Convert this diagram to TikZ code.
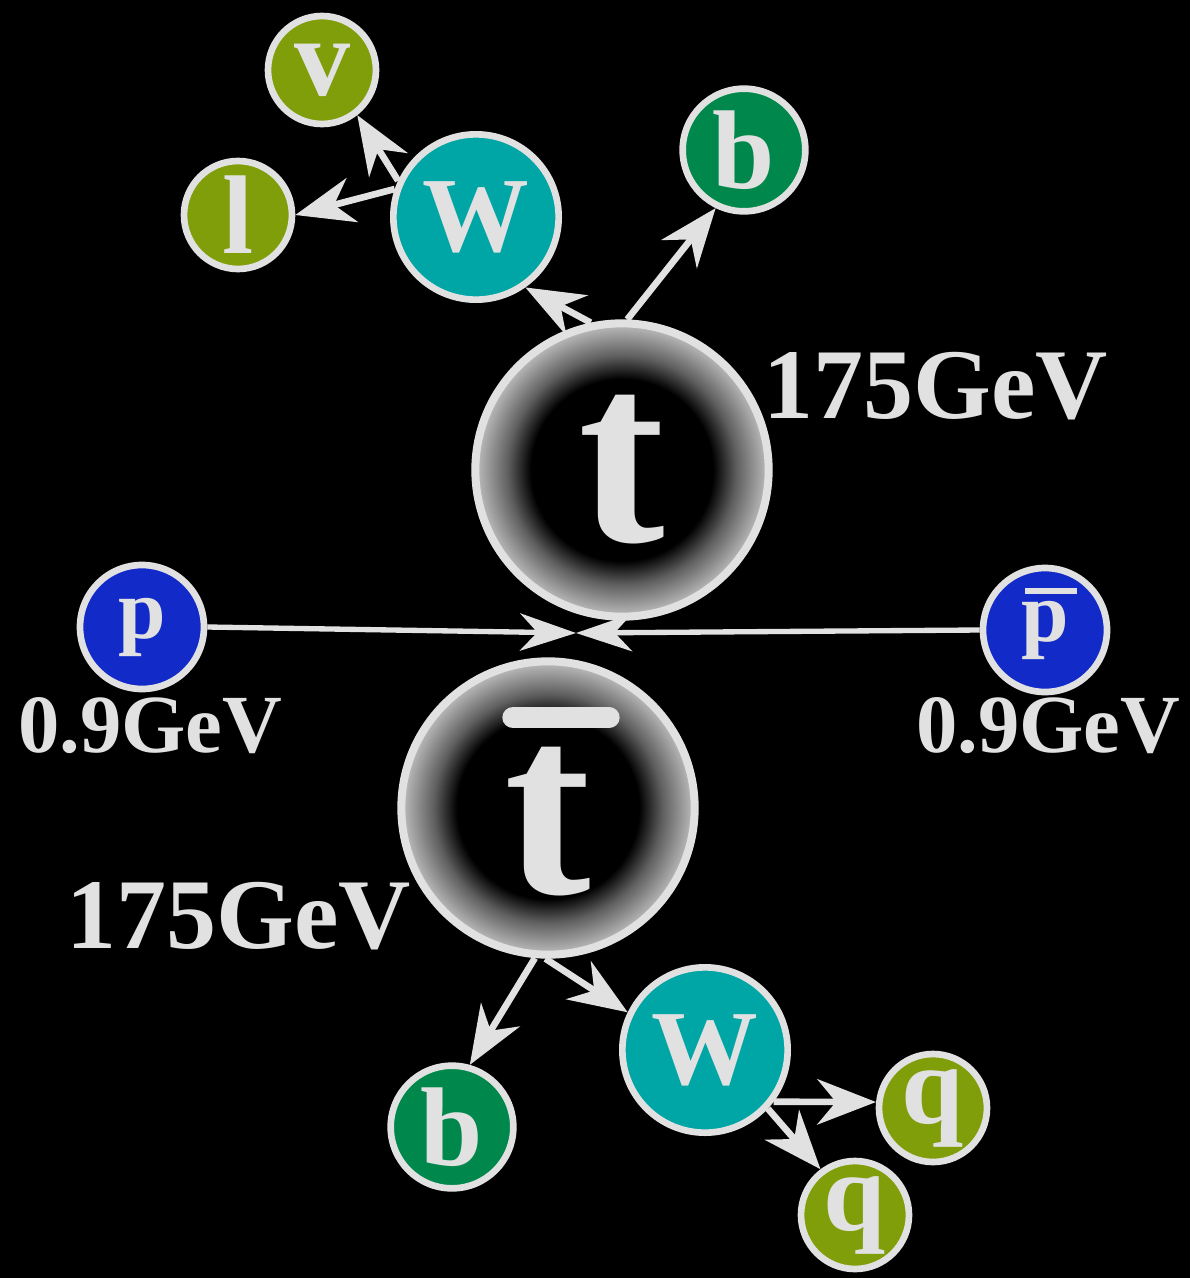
\documentclass[tikz,border=0pt]{standalone}
\usepackage{fontspec}
\setmainfont{Liberation Serif}
\usetikzlibrary{arrows.meta}

\definecolor{edgegray}{RGB}{225,225,225}
\definecolor{glowgray}{RGB}{182,182,182}
\definecolor{midgray}{RGB}{95,95,95}
\definecolor{leptgreen}{RGB}{128,158,10}
\definecolor{wcyan}{RGB}{0,165,165}
\definecolor{bgreen}{RGB}{0,135,75}
\definecolor{pblue}{RGB}{18,42,200}
\pgfdeclareradialshading{topglow}{\pgfpoint{0bp}{0bp}}{%
  color(0bp)=(black); color(15.5bp)=(black); color(19.5bp)=(midgray);
  color(24.5bp)=(glowgray); color(50bp)=(glowgray)}

\begin{document}
\begin{tikzpicture}[x=0.75pt, y=-0.75pt,
    ball/.style={circle, draw=edgegray, line width=5pt, inner sep=0pt,
      text=edgegray, font=\fontsize{84}{84}\selectfont\bfseries},
    lepton/.style={ball, fill=leptgreen, minimum size=81pt},
    wboson/.style={ball, fill=wcyan, minimum size=124pt,
      font=\fontsize{80}{80}\selectfont\bfseries},
    bquark/.style={ball, fill=bgreen, minimum size=92pt},
    proton/.style={ball, fill=pblue, minimum size=93pt,
      font=\fontsize{64}{64}\selectfont\bfseries},
    topball/.style={circle, draw=edgegray, line width=6pt, inner sep=0pt,
      minimum size=220pt, shade, shading=topglow},
    bigletter/.style={inner sep=0pt, text=edgegray,
      font=\fontsize{195}{195}\selectfont\bfseries},
    decay/.style={edgegray, line width=5pt,
      -{Stealth[length=44pt, width=34pt, inset=14pt]}},
    beam/.style={edgegray, line width=4pt,
      -{Stealth[length=42pt, width=28pt, inset=13pt]}},
    energy/.style={text=edgegray, inner sep=0pt, anchor=base west,
      font=\fontsize{75}{75}\selectfont\bfseries}]
    % Background
    \fill[black] (0,0) rectangle (1190,1278);
    % Top side
    \node[lepton] (nu) at (322,70) {v};
    \node[lepton] (lep) at (238,215) {l};
    \node[wboson] (Wt) at (476,217) {W};
    \node[bquark] (bt) at (744,150) {b};
    \node[topball] (t) at (622,470) {};
    \node[bigletter] (tt) at (t.center) {t};
    % Beams
    \node[proton] (p) at (142,627) {p};
    \node[proton] (pb) at (1045,630) {p};
    \draw[edgegray, line width=4.5pt] ([shift={(-20,-39)}]pb.center)
    -- ([shift={(32,-39)}]pb.center); % bar
    \coordinate (hit) at (576,633);
    % Antitop side
    \node[topball] (tb) at (548,808) {};
    \node[bigletter] (tbt) at ([yshift=-10pt]tb.center) {t};
    \draw[edgegray, line width=16pt, line cap=round]
    ([shift={(-35,-29)}]tbt.north) -- ([shift={(61,-29)}]tbt.north); % bar
    \node[bquark] (bb) at (452,1127) {b};
    \node[wboson] (Wb) at (705,1050) {W};
    \node[lepton] (q1) at (933,1108) {q};
    \node[lepton] (q2) at (855,1215) {q};
    % Arrows
    \draw[decay] (t.102) -- (Wt.-55);
    \draw[decay] (t.88) -- (bt.-116);
    \draw[decay] (Wt.155) -- (nu.-52);
    \draw[decay] (Wt.161) -- (lep.east);
    \draw[beam] (p.east) -- (hit);
    \draw[beam] (pb.west) -- (hit);
    \draw[decay] (tb.-95) -- (bb.74);
    \draw[decay] (tb.-91) -- (Wb.154);
    \draw[decay] (Wb.-37) -- (q1.174);
    \draw[decay] (Wb.-43) -- (q2.127);
    % Energies
    \node[energy] (Et) at (763,418) {175GeV};
    \node[energy] (Etb) at (66,948) {175GeV};
    \node[energy, font=\fontsize{62}{62}\selectfont\bfseries] (Ep) at (18,752) {0.9GeV};
    \node[energy, font=\fontsize{62}{62}\selectfont\bfseries] (Epb) at (916,752) {0.9GeV};
\end{tikzpicture}
\end{document}
